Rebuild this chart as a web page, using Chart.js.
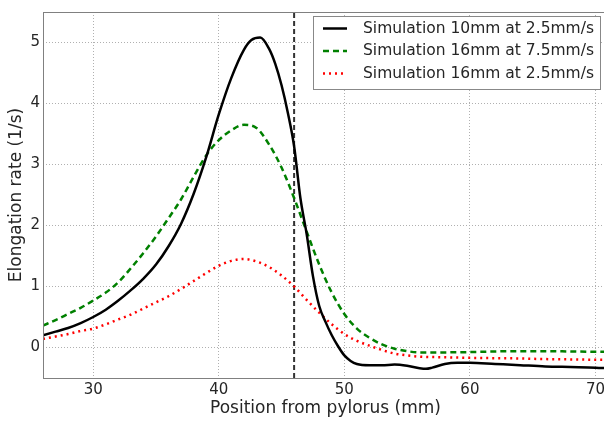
<!DOCTYPE html>
<html>
<head>
<meta charset="utf-8">
<script src="https://cdn.jsdelivr.net/npm/chart.js@4/dist/chart.umd.min.js"></script>
<style>
  html, body { margin: 0; padding: 0; overflow: hidden; background: #fff; }
  canvas { display: block; }
</style>
</head>
<body>
<canvas id="chart" width="608" height="421"></canvas>
<script>
// series: position (mm) -> elongation rate (1/s)
const xBlack = [26, 27, 28, 29, 30, 31, 32, 33, 34, 35, 36, 37, 38, 39, 40, 41, 42, 42.6, 43.3, 44, 44.5, 45, 45.5, 46, 46.5, 47, 47.5, 48, 48.5, 49, 49.5, 50, 50.5, 51, 52, 53, 54, 55, 56, 56.5, 57, 58, 59, 60, 62, 64, 66, 68, 70, 71];
const yBlack = [0.2, 0.26, 0.32, 0.4, 0.5, 0.62, 0.77, 0.94, 1.13, 1.36, 1.66, 2.03, 2.52, 3.12, 3.82, 4.42, 4.88, 5.04, 5.08, 4.9, 4.65, 4.3, 3.85, 3.3, 2.45, 1.86, 1.17, 0.68, 0.42, 0.2, 0.02, -0.13, -0.22, -0.27, -0.29, -0.29, -0.28, -0.3, -0.34, -0.35, -0.33, -0.27, -0.25, -0.25, -0.27, -0.29, -0.31, -0.32, -0.33, -0.34];

const xGreen = [26, 27, 28, 29, 30, 31, 32, 33, 34, 35, 36, 37, 38, 39, 40, 41, 42, 43, 44, 45, 46, 47, 48, 49, 50, 51, 52, 53, 54, 55, 56, 58, 60, 62, 64, 66, 68, 70, 71];
const yGreen = [0.36, 0.45, 0.55, 0.65, 0.77, 0.9, 1.07, 1.3, 1.55, 1.82, 2.12, 2.43, 2.8, 3.15, 3.4, 3.56, 3.65, 3.6, 3.33, 2.95, 2.45, 1.9, 1.36, 0.9, 0.55, 0.31, 0.16, 0.05, -0.02, -0.06, -0.08, -0.08, -0.075, -0.065, -0.06, -0.06, -0.065, -0.07, -0.07];

const xRed = [26, 27, 28, 29, 30, 31, 32, 33, 34, 35, 36, 37, 38, 39, 40, 41, 42, 43, 44, 45, 46, 47, 48, 49, 50, 51, 52, 53, 54, 55, 56, 58, 60, 62, 64, 66, 68, 70, 71];
const yRed = [0.14, 0.18, 0.22, 0.27, 0.31, 0.38, 0.46, 0.54, 0.64, 0.74, 0.84, 0.96, 1.09, 1.22, 1.34, 1.42, 1.45, 1.41, 1.32, 1.18, 1.0, 0.78, 0.57, 0.38, 0.22, 0.11, 0.03, -0.04, -0.1, -0.13, -0.15, -0.16, -0.17, -0.175, -0.18, -0.19, -0.195, -0.2, -0.2];

const seriesLabels = ['Simulation 10mm at 2.5mm/s', 'Simulation 16mm at 7.5mm/s', 'Simulation 16mm at 2.5mm/s'];
const markerX = 46;
const xRange = [26, 71];
const yRange = [-0.5, 5.5];
const xTicks = [30, 40, 50, 60, 70];
const yTicks = [0, 1, 2, 3, 4, 5];

const FONT = "'DejaVu Sans', sans-serif";
const toPoints = (xs, ys) => xs.map((x, i) => ({ x: x, y: ys[i] }));

// frame round the plot area + legend box in the upper right
const framePlugin = {
  id: 'frame',
  afterDraw(chart) {
    const { ctx, chartArea: a } = chart;
    ctx.save();
    ctx.strokeStyle = '#808080';
    ctx.lineWidth = 1;
    ctx.setLineDash([]);
    ctx.strokeRect(a.left + 0.5, a.top + 0.5, a.right - a.left, a.bottom - a.top);

    const bx = 313, by = 16, bw = 287, bh = 73;
    ctx.fillStyle = '#fff';
    ctx.fillRect(bx, by, bw, bh);
    ctx.strokeStyle = '#888';
    ctx.strokeRect(bx + 0.5, by + 0.5, bw, bh);
    ctx.font = '15.5px ' + FONT;
    ctx.textBaseline = 'middle';
    for (let i = 0; i < 3; i++) {
      const ds = chart.data.datasets[i];
      const y = by + 12.5 + i * 22.5;
      ctx.beginPath();
      ctx.strokeStyle = ds.borderColor;
      ctx.lineWidth = ds.borderWidth;
      ctx.setLineDash(ds.borderDash || []);
      ctx.moveTo(323, y);
      ctx.lineTo(347, y);
      ctx.stroke();
      ctx.fillStyle = '#262626';
      ctx.fillText(ds.label, 363, y);
    }
    ctx.restore();
  }
};

new Chart(document.getElementById('chart'), {
  type: 'line',
  data: {
    datasets: [
      {
        label: seriesLabels[0],
        data: toPoints(xBlack, yBlack),
        borderColor: '#000000',
        borderWidth: 2.5,
        cubicInterpolationMode: 'monotone',
        pointRadius: 0,
      },
      {
        label: seriesLabels[1],
        data: toPoints(xGreen, yGreen),
        borderColor: '#008000',
        borderWidth: 2.5,
        borderDash: [6, 4],
        cubicInterpolationMode: 'monotone',
        pointRadius: 0,
      },
      {
        label: seriesLabels[2],
        data: toPoints(xRed, yRed),
        borderColor: '#ff0000',
        borderWidth: 2.5,
        borderDash: [2, 4],
        cubicInterpolationMode: 'monotone',
        pointRadius: 0,
      },
      {
        label: 'marker',
        data: [{ x: markerX, y: yRange[0] }, { x: markerX, y: yRange[1] }],
        borderColor: '#333333',
        borderWidth: 2,
        borderDash: [5, 3],
        pointRadius: 0,
      },
    ],
  },
  options: {
    responsive: false,
    animation: false,
    layout: { padding: { top: 8, right: 0, bottom: 0, left: 0 } },
    plugins: { legend: { display: false }, tooltip: { enabled: false } },
    scales: {
      x: {
        type: 'linear',
        min: xRange[0],
        max: xRange[1],
        afterBuildTicks: (scale) => { scale.ticks = xTicks.map(v => ({ value: v })); },
        afterFit: (scale) => { scale.height = 43; },
        grid: { color: '#b0b0b0', lineWidth: 1, drawTicks: false },
        border: { display: false, dash: [1, 2] },
        ticks: {
          padding: 3,
          color: '#262626',
          font: { family: FONT, size: 15 },
        },
        title: {
          display: true,
          text: 'Position from pylorus (mm)',
          color: '#262626',
          font: { family: FONT, size: 17 },
          padding: { top: 0, bottom: 2 },
        },
      },
      y: {
        min: yRange[0],
        max: yRange[1],
        afterBuildTicks: (scale) => { scale.ticks = yTicks.map(v => ({ value: v })); },
        afterFit: (scale) => { scale.width = 43; },
        grid: { color: '#b0b0b0', lineWidth: 1, drawTicks: false },
        border: { display: false, dash: [1, 2] },
        ticks: {
          padding: 3,
          color: '#262626',
          font: { family: FONT, size: 15 },
        },
        title: {
          display: true,
          text: 'Elongation rate (1/s)',
          color: '#262626',
          font: { family: FONT, size: 17 },
          padding: { top: 6, bottom: 0 },
        },
      },
    },
  },
  plugins: [framePlugin],
});
</script>
</body>
</html>
